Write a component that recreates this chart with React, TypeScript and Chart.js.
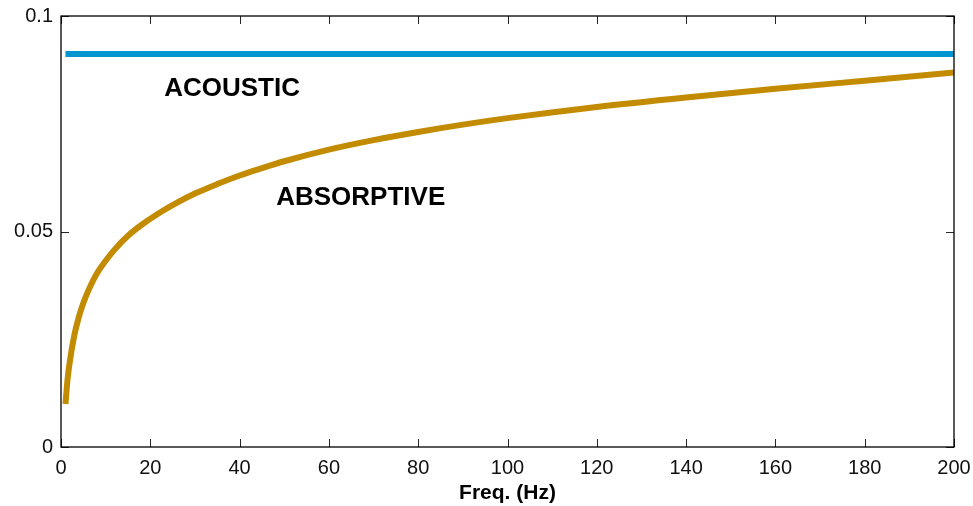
import React, { useEffect, useRef } from "react";
import { Chart, registerables } from "chart.js";

Chart.register(...registerables);

// Absorptive curve
const freq = [1, 1.5, 2, 3, 4, 5, 6, 8, 10, 12, 15, 18, 22, 26, 30, 35, 40, 45, 50, 60, 70, 80, 90, 100, 120, 140, 160, 180, 200];
const absorptive = [0.0100, 0.0160, 0.0200, 0.0260, 0.0302, 0.0334, 0.0360, 0.0402, 0.0432, 0.0458, 0.0490, 0.0515, 0.0543, 0.0567, 0.0588, 0.0610, 0.0630, 0.0647, 0.0663, 0.0690, 0.0712, 0.0731, 0.0748, 0.0763, 0.0789, 0.0811, 0.0831, 0.0850, 0.0869];

// Acoustic line
const acousticFreq = [1, 200];
const acoustic = [0.0912, 0.0912];

// Axis ticks
const xTicks = [0, 20, 40, 60, 80, 100, 120, 140, 160, 180, 200];
const yTicks = [0, 0.05, 0.1];
const yTickLabels = ["0", "0.05", "0.1"];

// In-plot labels
const labelTexts = ["ACOUSTIC", "ABSORPTIVE"];
const labelX = [23.1, 48.2];
const labelY = [0.0831, 0.0578];

const boxPlugin = {
  id: "boxPlugin",
  afterDatasetsDraw(chart: any) {
    const { ctx, chartArea, scales } = chart;
    const xs = scales.x;
    const ys = scales.y;
    ctx.save();
    // labels
    ctx.fillStyle = "#000";
    ctx.font = "bold 26px 'Liberation Sans', Arial, sans-serif";
    ctx.textAlign = "left";
    ctx.textBaseline = "middle";
    labelTexts.forEach((t, i) => {
      ctx.fillText(t, xs.getPixelForValue(labelX[i]), ys.getPixelForValue(labelY[i]));
    });
    // ticks
    ctx.strokeStyle = "#262626";
    ctx.lineWidth = 1;
    const tl = 8;
    ctx.beginPath();
    xTicks.forEach((v) => {
      const px = Math.round(xs.getPixelForValue(v)) + 0.5;
      ctx.moveTo(px, chartArea.bottom);
      ctx.lineTo(px, chartArea.bottom - tl);
      ctx.moveTo(px, chartArea.top);
      ctx.lineTo(px, chartArea.top + tl);
    });
    yTicks.forEach((v) => {
      const py = Math.round(ys.getPixelForValue(v)) + 0.5;
      ctx.moveTo(chartArea.left, py);
      ctx.lineTo(chartArea.left + tl, py);
      ctx.moveTo(chartArea.right, py);
      ctx.lineTo(chartArea.right - tl, py);
    });
    ctx.stroke();
    // box
    ctx.strokeStyle = "#000";
    ctx.lineWidth = 1.3;
    ctx.strokeRect(chartArea.left, chartArea.top, chartArea.right - chartArea.left, chartArea.bottom - chartArea.top);
    ctx.restore();
  },
};

export default function App() {
  const ref = useRef<HTMLCanvasElement | null>(null);
  useEffect(() => {
    if (!ref.current) return;
    const chart = new Chart(ref.current, {
      type: "line",
      data: {
        datasets: [
          {
            label: "Acoustic",
            data: acousticFreq.map((x, i) => ({ x, y: acoustic[i] })),
            borderColor: "#0096cf",
            borderWidth: 6,
            pointRadius: 0,
            fill: false,
          },
          {
            label: "Absorptive",
            data: freq.map((x, i) => ({ x, y: absorptive[i] })),
            borderColor: "#c28b00",
            borderWidth: 6,
            pointRadius: 0,
            fill: false,
            cubicInterpolationMode: "monotone",
          },
        ],
      },
      options: {
        animation: false,
        responsive: false,
        layout: { padding: { left: 0, right: 19, top: 16, bottom: 0 } },
        plugins: { legend: { display: false }, tooltip: { enabled: false } },
        scales: {
          x: {
            type: "linear",
            min: 0,
            max: 200,
            afterFit: (s: any) => {
              s.height = 59;
              s.paddingLeft = 0;
              s.paddingRight = 0;
              s.paddingTop = 0;
              s.paddingBottom = 0;
            },
            afterBuildTicks: (s: any) => {
              s.ticks = xTicks.map((v) => ({ value: v }));
            },
            grid: { display: false, drawTicks: false },
            border: { display: false },
            ticks: {
              padding: 9,
              color: "#111",
              maxRotation: 0,
              autoSkip: false,
              font: { family: "'Liberation Sans', Arial, sans-serif", size: 20 },
              callback: (v: any) => String(v),
            },
            title: {
              display: true,
              text: "Freq. (Hz)",
              color: "#000",
              padding: { top: 0, bottom: 0 },
              font: { family: "'Liberation Sans', Arial, sans-serif", size: 21, weight: "bold" },
            },
          },
          y: {
            type: "linear",
            min: 0,
            max: 0.1,
            afterFit: (s: any) => {
              s.width = 61;
              s.paddingLeft = 0;
              s.paddingRight = 0;
              s.paddingTop = 0;
              s.paddingBottom = 0;
            },
            afterBuildTicks: (s: any) => {
              s.ticks = yTicks.map((v) => ({ value: v }));
            },
            grid: { display: false, drawTicks: false },
            border: { display: false },
            ticks: {
              padding: 8,
              color: "#111",
              autoSkip: false,
              font: { family: "'Liberation Sans', Arial, sans-serif", size: 20 },
              callback: (_v: any, i: number) => yTickLabels[i],
            },
          },
        },
      },
      plugins: [boxPlugin],
    } as any);
    return () => chart.destroy();
  }, []);
  return (
    <div style={{ position: "absolute", left: 0, top: 0, width: 973, height: 506, background: "#fff" }}>
      <canvas ref={ref} width={973} height={506} style={{ display: "block" }} />
    </div>
  );
}
